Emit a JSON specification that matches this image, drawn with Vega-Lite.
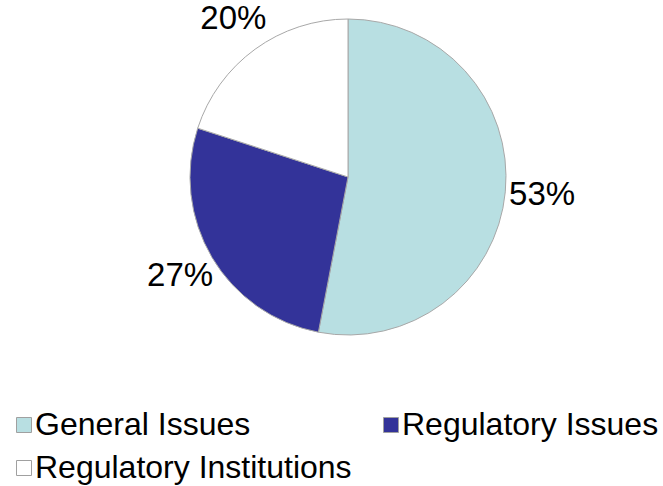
{
  "$schema": "https://vega.github.io/schema/vega-lite/v6.json",
  "width": 340,
  "height": 340,
  "autosize": {"type": "none"},
  "padding": {"left": 178, "top": 7, "right": 145, "bottom": 139},
  "background": "white",
  "config": {"view": {"stroke": null}, "font": "Liberation Sans"},
  "data": {
    "values": [
      {"category": "General Issues", "value": 53, "label": "53%", "rank": 1},
      {"category": "Regulatory Issues", "value": 27, "label": "27%", "rank": 2},
      {"category": "Regulatory Institutions", "value": 20, "label": "20%", "rank": 3}
    ]
  },
  "layer": [
    {
      "mark": {"type": "arc", "outerRadius": 158, "stroke": "#A8A8A8", "strokeWidth": 1},
      "encoding": {
        "theta": {"field": "value", "type": "quantitative", "stack": true},
        "order": {"field": "rank", "type": "quantitative"},
        "color": {
          "field": "category",
          "type": "nominal",
          "scale": {
            "domain": ["General Issues", "Regulatory Issues", "Regulatory Institutions"],
            "range": ["#B8DFE2", "#333399", "#FFFFFF"]
          },
          "legend": {
            "title": null,
            "orient": "none",
            "direction": "horizontal",
            "columns": 2,
            "legendX": -170,
            "legendY": 402,
            "padding": 0,
            "symbolType": "square",
            "symbolSize": 225,
            "symbolStrokeColor": "#A0A0A0",
            "symbolStrokeWidth": 1,
            "symbolOpacity": 1,
            "labelFont": "Liberation Sans",
            "labelFontSize": 32,
            "labelColor": "#000000",
            "labelOffset": -5,
            "labelLimit": 0,
            "columnPadding": 23,
            "rowPadding": 11
          }
        }
      }
    },
    {
      "mark": {"type": "text", "radius": 195, "fontSize": 33, "font": "Liberation Sans", "color": "#000000"},
      "encoding": {
        "theta": {"field": "value", "type": "quantitative", "stack": true},
        "order": {"field": "rank", "type": "quantitative"},
        "text": {"field": "label", "type": "nominal"}
      }
    }
  ]
}
